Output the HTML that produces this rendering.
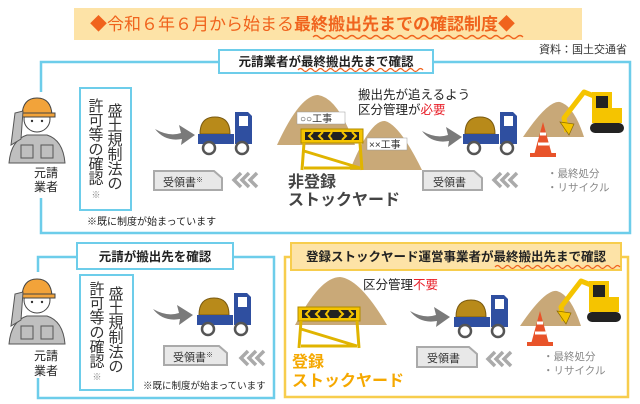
<!DOCTYPE html>
<html><head><meta charset="utf-8"><style>
html,body{margin:0;padding:0;background:#fff;width:640px;height:404px;overflow:hidden}
svg text{font-family:"Liberation Sans","Noto Sans CJK JP",sans-serif}
</style></head><body>
<svg width="640" height="404" viewBox="0 0 640 404" xmlns="http://www.w3.org/2000/svg">
<defs>
<g id="worker">
  <path d="M4 68 Q6 45 22 40 L42 40 Q58 45 60 68 Z" fill="#bfbfbf" stroke="#555" stroke-width="1"/>
  <rect x="16" y="50" width="12" height="13" fill="none" stroke="#555"/>
  <rect x="36" y="50" width="12" height="13" fill="none" stroke="#555"/>
  <circle cx="32" cy="24" r="13" fill="#fff" stroke="#444"/>
  <path d="M17 20 Q18 3 32 3 Q46 3 47 20 Z" fill="#f2a33a" stroke="#444"/>
  <rect x="14" y="18" width="36" height="4" fill="#f2a33a" stroke="#444"/>
  <path d="M6 50 L10 18 L18 16 L16 44 Z" fill="#bfbfbf" stroke="#555"/>
  <circle cx="27" cy="26" r="1.2" fill="#333"/><circle cx="37" cy="26" r="1.2" fill="#333"/>
</g>
<g id="truck">
  <path d="M2 22 Q2 5 17 5 Q32 5 32 22 Z" fill="#b88a1a" stroke="#7a5a10"/>
  <rect x="0" y="22" width="36" height="10" fill="#2f4fa0"/>
  <path d="M37 0 L50 0 L54 4 L54 32 L37 32 Z" fill="#2f4fa0"/>
  <rect x="41" y="4" width="9" height="10" fill="#fff"/>
  <circle cx="11" cy="36" r="6" fill="#fff" stroke="#555" stroke-width="2.5"/>
  <circle cx="44" cy="36" r="6" fill="#fff" stroke="#555" stroke-width="2.5"/>
</g>
<g id="arrow">
  <path d="M0 4 Q14 12 26 8 L24 0 L40 10 L26 20 L27 14 Q10 17 0 4Z" fill="#7a7a7a"/>
</g>
<g id="chev" fill="none" stroke="#aaa" stroke-width="3.5">
  <path d="M9 0 L2 7 L9 14"/><path d="M17 0 L10 7 L17 14"/><path d="M25 0 L18 7 L25 14"/>
</g>
<g id="barrier">
  <rect x="0" y="0" width="62" height="14" fill="#f5c400" stroke="#b08a00"/>
  <rect x="4" y="3" width="54" height="8" fill="#222"/>
  <path d="M12 3 l-4 4 4 4 M22 3 l-4 4 4 4 M41 3 l4 4 -4 4 M51 3 l4 4 -4 4 M31 3 l-3 4 3 4" stroke="#f5c400" stroke-width="2" fill="none"/>
  <path d="M3 14 L1 41 M59 14 L61 41 M3 39 L59 39 M3 22 L59 39" stroke="#e0b400" stroke-width="3" fill="none"/>
</g>
<g id="exc">
  <path d="M3 49 Q28 12 40 14 Q54 18 64 49 Z" fill="#c8a878"/>
  <path d="M47 44 L44 30 L64 4 L74 8" stroke="#f5c400" stroke-width="5" fill="none" stroke-linejoin="round"/>
  <path d="M40 34 L54 36 L49 47 Z" fill="#f5c400" stroke="#8a6a00" stroke-width=".7"/>
  <rect x="72" y="4" width="20" height="31" fill="#f5c400"/>
  <rect x="88" y="20" width="14" height="15" fill="#f5c400"/>
  <rect x="76" y="8" width="12" height="12" fill="#222"/>
  <rect x="70" y="35" width="34" height="10" rx="5" fill="#222"/>
  <path d="M14 67 L23 34 L32 67 Z" fill="#e8532a"/>
  <path d="M20 46 L26 46 M18 56 L29 56" stroke="#fff" stroke-width="3"/>
  <rect x="10" y="65" width="26" height="4" fill="#e8532a"/>
</g>
</defs>

<!-- title -->
<rect x="74" y="8" width="508" height="32" fill="#fde3a7"/>
<text x="90" y="30" font-size="17" fill="#f0631d">◆令和６年６月から始まる<tspan font-weight="bold">最終搬出先までの確認制度</tspan>◆</text>
<path d="M313 37 q3 -3 6 0 t6 0 t6 0 t6 0 t6 0 t6 0 t6 0 t6 0 t6 0 t6 0 t6 0 t6 0 t6 0 t6 0 t6 0 t6 0 t6 0 t6 0 t6 0 t6 0 t6 0 t6 0 t6 0 t6 0 t6 0 t6 0 t6 0 t6 0 t6 0 t6 0 t6 0 t6 0 t6 0 t6 0 t6 0" stroke="#f0631d" fill="none" stroke-width="1.3"/>
<text x="627" y="53" font-size="11" fill="#333" text-anchor="end">資料：国土交通省</text>

<!-- upper box -->
<rect x="41" y="62" width="589" height="171" fill="none" stroke="#6dcdea" stroke-width="2.5"/>
<rect x="219" y="50" width="214" height="23" fill="#fff" stroke="#6dcdea" stroke-width="2"/>
<text x="326" y="66" font-size="12.5" font-weight="bold" fill="#222" text-anchor="middle">元請業者が最終搬出先まで確認</text>
<path d="M298 70 q2.5 -3 5 0 t5 0 t5 0 t5 0 t5 0 t5 0 t5 0 t5 0 t5 0 t5 0 t5 0 t5 0 t5 0 t5 0 t5 0 t5 0 t5 0 t5 0 t5 0 t5 0 t5 0 t5 0 t5 0 t5 0 t5 0" stroke="#f0631d" fill="none" stroke-width="1.2"/>

<rect x="0" y="92" width="72" height="106" fill="#fff"/>
<use href="#worker" x="5" y="95"/>
<text x="46" y="177" font-size="12" fill="#222" text-anchor="middle">元請</text>
<text x="46" y="191" font-size="12" fill="#222" text-anchor="middle">業者</text>

<rect x="80" y="88" width="51" height="122" fill="#fff" stroke="#6dcdea" stroke-width="2"/>
<g font-size="15" fill="#333" text-anchor="middle">
<text x="115" y="116">盛</text><text x="115" y="130.5">土</text><text x="115" y="145">規</text><text x="115" y="159.5">制</text><text x="115" y="174">法</text><text x="115" y="188.5">の</text>
<text x="96" y="111">許</text><text x="96" y="125.5">可</text><text x="96" y="140">等</text><text x="96" y="154.5">の</text><text x="96" y="169">確</text><text x="96" y="183.5">認</text>
<text x="96" y="198" font-size="9" fill="#888">※</text>
</g>
<text x="87" y="225" font-size="10" fill="#222">※既に制度が始まっています</text>

<use href="#arrow" x="155" y="125"/>
<use href="#truck" x="198" y="112"/>
<path d="M154 171 L214 171 L222 178 L222 190 L154 190 Z" fill="#e8e8e8" stroke="#aaa" stroke-width="2"/>
<text x="163" y="186" font-size="11" fill="#333">受領書<tspan font-size="7" dy="-4">※</tspan></text>
<use href="#chev" x="232" y="173"/>

<path d="M277 145 Q300 95 318 95 Q338 98 355 145 Z" fill="#c9a978"/>
<rect x="297" y="112" width="48" height="12" fill="#fff" stroke="#999" stroke-width=".5"/>
<text x="300" y="122" font-size="10" fill="#333">○○工事</text>
<path d="M350 170 Q370 120 385 121 Q400 125 422 170 Z" fill="#c9a978"/>
<rect x="367" y="138" width="40" height="12" fill="#fff" stroke="#999" stroke-width=".5"/>
<text x="369" y="148" font-size="10" fill="#333">××工事</text>
<use href="#barrier" x="301" y="129"/>
<text x="288" y="187" font-size="16" font-weight="bold" fill="#444">非登録</text>
<text x="288" y="205" font-size="16" font-weight="bold" fill="#444">ストックヤード</text>
<text x="358" y="99" font-size="12.5" fill="#222">搬出先が追えるよう</text>
<text x="358" y="114" font-size="12.5" fill="#222">区分管理が<tspan fill="#e8202a">必要</tspan></text>

<use href="#arrow" x="422" y="127"/>
<use href="#truck" x="463" y="112"/>
<path d="M423 171 L474 171 L482 178 L482 190 L423 190 Z" fill="#e8e8e8" stroke="#aaa" stroke-width="2"/>
<text x="433" y="186" font-size="11" fill="#333">受領書</text>
<use href="#chev" x="492" y="173"/>
<use href="#exc" x="520" y="88"/>
<text x="547" y="177" font-size="10.5" fill="#888">・最終処分</text>
<text x="547" y="191" font-size="10.5" fill="#888">・リサイクル</text>

<!-- lower left -->
<rect x="38" y="257" width="236" height="141" fill="none" stroke="#6dcdea" stroke-width="2.5"/>
<rect x="77" y="243" width="156" height="26" fill="#fff" stroke="#6dcdea" stroke-width="2"/>
<text x="155" y="261" font-size="12.5" font-weight="bold" fill="#222" text-anchor="middle">元請が搬出先を確認</text>
<rect x="0" y="272" width="72" height="106" fill="#fff"/>
<use href="#worker" x="5" y="276"/>
<text x="46" y="360" font-size="12" fill="#222" text-anchor="middle">元請</text>
<text x="46" y="375" font-size="12" fill="#222" text-anchor="middle">業者</text>
<rect x="80" y="275" width="53" height="115" fill="#fff" stroke="#6dcdea" stroke-width="2"/>
<g font-size="15" fill="#333" text-anchor="middle">
<text x="116" y="299">盛</text><text x="116" y="313.5">土</text><text x="116" y="328">規</text><text x="116" y="342.5">制</text><text x="116" y="357">法</text><text x="116" y="371.5">の</text>
<text x="97" y="294">許</text><text x="97" y="308.5">可</text><text x="97" y="323">等</text><text x="97" y="337.5">の</text><text x="97" y="352">確</text><text x="97" y="366.5">認</text>
<text x="97" y="380" font-size="9" fill="#888">※</text>
</g>
<use href="#arrow" x="153" y="305"/>
<use href="#truck" x="197" y="293"/>
<path d="M164 346 L219 346 L227 353 L227 365 L164 365 Z" fill="#e8e8e8" stroke="#aaa" stroke-width="2"/>
<text x="173" y="361" font-size="11" fill="#333">受領書<tspan font-size="7" dy="-4">※</tspan></text>
<use href="#chev" x="239" y="351"/>
<text x="143" y="389" font-size="9.5" fill="#222">※既に制度が始まっています</text>

<!-- lower right -->
<rect x="285" y="257" width="343" height="140" fill="none" stroke="#f7cd4d" stroke-width="2.5"/>
<rect x="291" y="243" width="330" height="27" fill="#fde3a7" stroke="#f7cd4d" stroke-width="2"/>
<text x="456" y="261" font-size="12.5" font-weight="bold" fill="#222" text-anchor="middle">登録ストックヤード運営事業者が最終搬出先まで確認</text>
<path d="M495 267 q2.5 -3 5 0 t5 0 t5 0 t5 0 t5 0 t5 0 t5 0 t5 0 t5 0 t5 0 t5 0 t5 0 t5 0 t5 0 t5 0 t5 0 t5 0 t5 0 t5 0 t5 0 t5 0 t5 0 t5 0 t5 0 t5 0" stroke="#f0631d" fill="none" stroke-width="1.2"/>
<path d="M295 325 Q320 277 340 277 Q360 279 387 325 Z" fill="#c9a978"/>
<use href="#barrier" x="298" y="307"/>
<text x="363" y="289" font-size="12.5" fill="#222">区分管理<tspan fill="#e8202a">不要</tspan></text>
<text x="292" y="367" font-size="16" font-weight="bold" fill="#f5a800">登録</text>
<text x="292" y="386" font-size="16" font-weight="bold" fill="#f5a800">ストックヤード</text>
<use href="#arrow" x="410" y="307"/>
<use href="#truck" x="454" y="295"/>
<path d="M417 347 L469 347 L477 354 L477 367 L417 367 Z" fill="#e8e8e8" stroke="#aaa" stroke-width="2"/>
<text x="427" y="362" font-size="11" fill="#333">受領書</text>
<use href="#chev" x="486" y="352"/>
<use href="#exc" x="517" y="277"/>
<text x="543" y="360" font-size="10.5" fill="#888">・最終処分</text>
<text x="543" y="374" font-size="10.5" fill="#888">・リサイクル</text>
</svg>
</body></html>
